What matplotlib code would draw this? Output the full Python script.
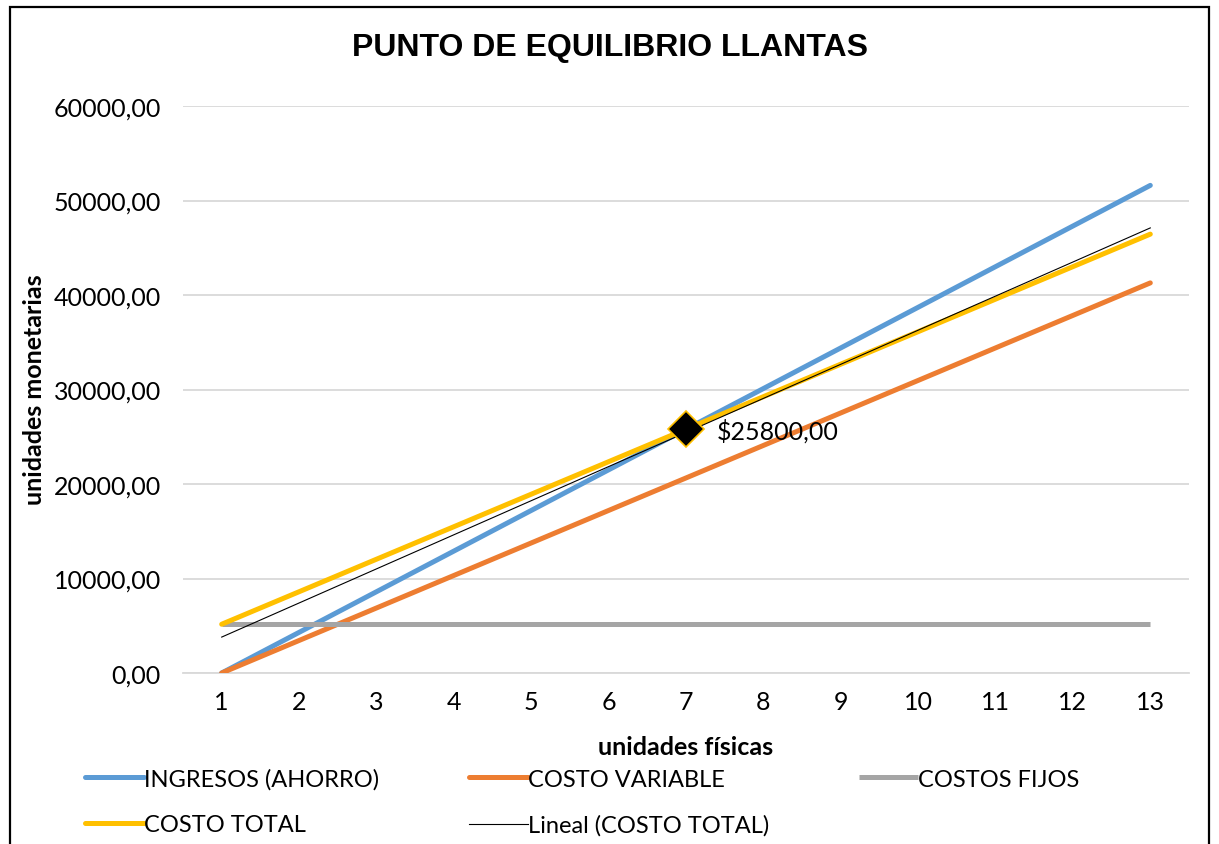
import matplotlib
matplotlib.use("Agg")
import matplotlib.pyplot as plt
from matplotlib.patches import Rectangle

# Units (category axis) and series values
unidades = [1, 2, 3, 4, 5, 6, 7, 8, 9, 10, 11, 12, 13]
ingresos = [0, 4300, 8600, 12900, 17200, 21500, 25800, 30100, 34400, 38700, 43000, 47300, 51600]
costo_variable = [0, 3440, 6880, 10320, 13760, 17200, 20640, 24080, 27520, 30960, 34400, 37840, 41280]
costos_fijos = [5160] * 13
costo_total = [5160, 8600, 12040, 15480, 18920, 22360, 25800, 29240, 32680, 36120, 39560, 43000, 46440]

# Linear trend of total cost (endpoints at first and last unit)
trend_x = [1, 13]
trend_total = [3800, 47100]

# Break-even point
eq_x = 7
eq_y = 25800

y_ticks = [0, 10000, 20000, 30000, 40000, 50000, 60000]

plt.rcParams["font.family"] = ["Lato", "DejaVu Sans"]

W, H = 1219, 845
fig = plt.figure(figsize=(W / 100, H / 100), dpi=100)

# outer chart frame
fig.patches.append(Rectangle((10 / W, -0.05), (1209 - 10) / W, 1.05 - 8 / H,
                             transform=fig.transFigure, fill=False,
                             edgecolor="black", linewidth=1.6, zorder=10))

ax = fig.add_axes([183 / W, 1 - 674 / H, (1189 - 183) / W, (674 - 107) / H])

lw = 3.6
l_ing, = ax.plot(unidades, ingresos, color="#5B9BD5", lw=lw, solid_capstyle="round",
                 label="INGRESOS (AHORRO)", zorder=3)
l_cv, = ax.plot(unidades, costo_variable, color="#ED7D31", lw=lw, solid_capstyle="round",
                label="COSTO VARIABLE", zorder=3)
l_cf, = ax.plot(unidades, costos_fijos, color="#A5A5A5", lw=lw, solid_capstyle="butt",
                label="COSTOS FIJOS", zorder=3)
l_ct, = ax.plot(unidades, costo_total, color="#FFC000", lw=lw, solid_capstyle="round",
                label="COSTO TOTAL", zorder=4)
l_tr, = ax.plot(trend_x, trend_total, color="black", lw=0.8,
                label="Lineal (COSTO TOTAL)", zorder=5)

ax.plot([eq_x], [eq_y], marker="D", markersize=18, markerfacecolor="black",
        markeredgecolor="#FFC000", markeredgewidth=1.2, zorder=6)
ax.annotate(f"${eq_y:.2f}".replace(".", ","), (eq_x, eq_y), xytext=(22, -1),
            textcoords="offset points", va="center", ha="left", fontsize=18)

ax.set_xlim(0.5, 13.5)
ax.set_ylim(0, 60000)
ax.set_xticks(unidades)
ax.set_xticklabels([str(u) for u in unidades])
ax.set_yticks(y_ticks)
ax.set_yticklabels([f"{v:.2f}".replace(".", ",") for v in y_ticks])
ax.tick_params(length=0, labelsize=18, pad=16)
ax.tick_params(axis="x", pad=12)
ax.grid(axis="y", color="#D9D9D9", lw=1.3)
ax.set_axisbelow(True)
for s in ["top", "right", "left"]:
    ax.spines[s].set_visible(False)
ax.spines["bottom"].set_color("#D9D9D9")
ax.spines["bottom"].set_linewidth(1.3)

fig.text(610 / W, 1 - 48 / H, "PUNTO DE EQUILIBRIO LLANTAS", ha="center", va="center",
         fontsize=23, fontweight="bold", family=["Liberation Sans", "DejaVu Sans"])
fig.text(686 / W, 1 - 748 / H, "unidades físicas", ha="center", va="center",
         fontsize=18, fontweight="bold")
fig.text(35 / W, 1 - 390 / H, "unidades monetarias", ha="center", va="center",
         rotation=90, fontsize=18, fontweight="bold")

handles = [l_ing, l_ct, l_cv, l_tr, l_cf]
fig.legend(handles=handles, labels=[h.get_label() for h in handles],
           loc="upper left", bbox_to_anchor=(85 / W, 1 - 769 / H),
           ncol=3, frameon=False, fontsize=17,
           handlelength=2.5, handletextpad=0.0, labelspacing=1.05,
           columnspacing=3.8, borderaxespad=0, borderpad=0)

fig.savefig("out.png", dpi=100)
